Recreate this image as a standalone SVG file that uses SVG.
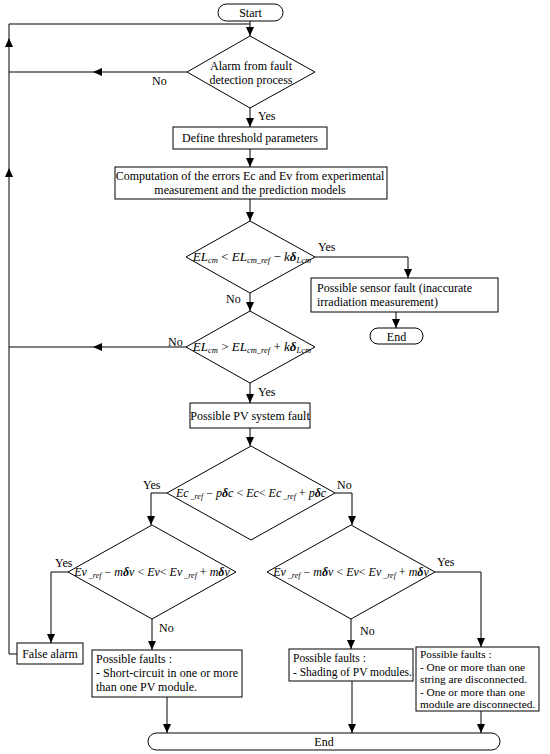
<svg xmlns="http://www.w3.org/2000/svg" width="550" height="754" viewBox="0 0 550 754" font-family="'Liberation Serif','Times New Roman',serif">
<defs>
<marker id="ah" markerUnits="userSpaceOnUse" markerWidth="10" markerHeight="8" refX="9" refY="4" orient="auto">
<path d="M0,0 L9,4 L0,8 z" fill="#000"/>
</marker>
<style>
.s{fill:#fff;stroke:#000;stroke-width:1}
.c{fill:none;stroke:#000;stroke-width:1}
.a{marker-end:url(#ah)}
text{font-family:"Liberation Serif","Times New Roman",serif;font-size:12px;fill:#000}
.m{text-anchor:middle}
.i{font-style:italic}
.sb{font-size:8px;font-style:italic}
.f{font-size:11.3px}
.g{font-size:13px}
.g .sb{font-size:8.5px}
.h{font-size:11.5px}
</style>
</defs>
<rect width="550" height="754" fill="#fff"/>
<g id="connectors">
<path class="c a" d="M250,21 V36"/>
<path class="c" d="M9,24 H250"/>
<path class="c a" d="M187,72 H93"/>
<path class="c" d="M93,72 H9"/>
<path class="c a" d="M250,108 V127"/>
<path class="c a" d="M250,149 V167"/>
<path class="c a" d="M250,199 V221"/>
<path class="c a" d="M315,257 H408 V278"/>
<path class="c a" d="M396,312 V328"/>
<path class="c a" d="M250,293 V311"/>
<path class="c a" d="M186,347 H93"/>
<path class="c" d="M93,347 H9"/>
<path class="c a" d="M250,383 V403"/>
<path class="c a" d="M250,428 V446"/>
<path class="c a" d="M167,493 H151 V525"/>
<path class="c a" d="M335,493 H352 V525"/>
<path class="c a" d="M68,572 H51 V643"/>
<path class="c a" d="M152,619 V650"/>
<path class="c a" d="M435,572 H481 V647"/>
<path class="c a" d="M351,619 V649"/>
<path class="c a" d="M17,654 H9 V168"/>
<path class="c a" d="M9,168 V38"/>
<path class="c" d="M9,38 V24"/>
<path class="c a" d="M167,697 V733"/>
<path class="c a" d="M352,681 V733"/>
<path class="c a" d="M481,711 V733"/>
</g>
<g id="start">
<rect class="s" x="218" y="4" width="65" height="17" rx="8.5"/>
<text class="m" x="250.5" y="17">Start</text>
</g>
<g id="alarm">
<polygon class="s" points="250,36 315,72 250,108 187,72"/>
<text class="m" x="251" y="70">Alarm from fault</text>
<text class="m" x="251" y="84">detection process</text>
</g>
<text x="152" y="85">No</text>
<text x="258" y="120">Yes</text>
<g id="define">
<rect class="s" x="173" y="127" width="154" height="22"/>
<text class="m" x="250" y="142">Define threshold parameters</text>
</g>
<g id="compute">
<rect class="s" x="115" y="167" width="272" height="32"/>
<text class="m" x="250" y="180">Computation of the errors Ec and Ev from experimental</text>
<text class="m" x="250" y="194">measurement and the prediction models</text>
</g>
<g id="cond1">
<polygon class="s" points="250,221 315,257 250,293 186,257"/>
<text class="m g" x="252" y="261"><tspan class="i">EL</tspan><tspan class="sb" dy="2">cm</tspan><tspan dy="-2"> &lt; </tspan><tspan class="i">EL</tspan><tspan class="sb" dy="2">cm_ref</tspan><tspan dy="-2"> − </tspan><tspan class="i">k</tspan><tspan class="i" font-weight="bold">δ</tspan><tspan class="sb" dy="2">Lcm</tspan></text>
</g>
<text x="318" y="251">Yes</text>
<text x="226" y="303">No</text>
<g id="sensor">
<rect class="s" x="311" y="278" width="187" height="34"/>
<text x="317" y="292">Possible sensor fault (inaccurate</text>
<text x="317" y="306">irradiation measurement)</text>
</g>
<g id="end1">
<rect class="s" x="370" y="328" width="53" height="16" rx="8"/>
<text class="m" x="396.5" y="340.5">End</text>
</g>
<g id="cond2">
<polygon class="s" points="250,311 315,347 250,383 186,347"/>
<text class="m g" x="252" y="351"><tspan class="i">EL</tspan><tspan class="sb" dy="2">cm</tspan><tspan dy="-2"> &gt; </tspan><tspan class="i">EL</tspan><tspan class="sb" dy="2">cm_ref</tspan><tspan dy="-2"> + </tspan><tspan class="i">k</tspan><tspan class="i" font-weight="bold">δ</tspan><tspan class="sb" dy="2">Lcm</tspan></text>
</g>
<text x="168" y="346">No</text>
<text x="258" y="396">Yes</text>
<g id="pvfault">
<rect class="s" x="190" y="403" width="120" height="25"/>
<text class="m" x="250" y="420">Possible PV system fault</text>
</g>
<g id="cond3">
<polygon class="s" points="251,446 335,493 251,540 167,493"/>
<text class="m" x="251" y="497"><tspan class="i">Ec</tspan><tspan class="sb" dy="2"> _ref</tspan><tspan dy="-2"> − </tspan><tspan class="i">p</tspan><tspan class="i" font-weight="bold">δ</tspan><tspan class="i">c</tspan><tspan> &lt; </tspan><tspan class="i">Ec</tspan><tspan>&lt; </tspan><tspan class="i">Ec</tspan><tspan class="sb" dy="2"> _ref</tspan><tspan dy="-2"> + </tspan><tspan class="i">p</tspan><tspan class="i" font-weight="bold">δ</tspan><tspan class="i">c</tspan></text>
</g>
<text x="143" y="489">Yes</text>
<text x="337" y="489">No</text>
<g id="cond4">
<polygon class="s" points="152,525 236,572 152,619 68,572"/>
<text class="m" x="152" y="576"><tspan class="i">Ev</tspan><tspan class="sb" dy="2"> _ref</tspan><tspan dy="-2"> − </tspan><tspan class="i">m</tspan><tspan class="i" font-weight="bold">δ</tspan><tspan class="i">v</tspan><tspan> &lt; </tspan><tspan class="i">Ev</tspan><tspan>&lt; </tspan><tspan class="i">Ev</tspan><tspan class="sb" dy="2"> _ref</tspan><tspan dy="-2"> + </tspan><tspan class="i">m</tspan><tspan class="i" font-weight="bold">δ</tspan><tspan class="i">v</tspan></text>
</g>
<text x="55" y="567">Yes</text>
<text x="159" y="632">No</text>
<g id="cond5">
<polygon class="s" points="351,525 435,572 351,619 267,572"/>
<text class="m" x="351" y="576"><tspan class="i">Ev</tspan><tspan class="sb" dy="2"> _ref</tspan><tspan dy="-2"> − </tspan><tspan class="i">m</tspan><tspan class="i" font-weight="bold">δ</tspan><tspan class="i">v</tspan><tspan> &lt; </tspan><tspan class="i">Ev</tspan><tspan>&lt; </tspan><tspan class="i">Ev</tspan><tspan class="sb" dy="2"> _ref</tspan><tspan dy="-2"> + </tspan><tspan class="i">m</tspan><tspan class="i" font-weight="bold">δ</tspan><tspan class="i">v</tspan></text>
</g>
<text x="437" y="566">Yes</text>
<text x="360" y="635">No</text>
<g id="falsealarm">
<rect class="s" x="17" y="643" width="66" height="21"/>
<text class="m" x="50" y="658">False alarm</text>
</g>
<g id="faults1">
<rect class="s" x="92" y="650" width="150" height="47"/>
<text x="96" y="663">Possible faults :</text>
<text x="96" y="677" textLength="142" lengthAdjust="spacing">- Short-circuit in one or more</text>
<text x="96" y="691">than one PV module.</text>
</g>
<g id="faults2">
<rect class="s" x="289" y="649" width="124" height="32"/>
<text class="h" x="293" y="662">Possible faults :</text>
<text class="h" x="293" y="676">- Shading of PV modules.</text>
</g>
<g id="faults3">
<rect class="s" x="416" y="647" width="123" height="64"/>
<text class="f" x="420" y="658">Possible faults :</text>
<text class="f" x="420" y="670.5">- One or more than one</text>
<text class="f" x="420" y="683">string are disconnected.</text>
<text class="f" x="420" y="695.5">- One or more than one</text>
<text class="f" x="420" y="708">module are disconnected.</text>
</g>
<g id="end2">
<rect class="s" x="148" y="733" width="352" height="17" rx="8.5"/>
<text class="m" x="324" y="746">End</text>
</g>
</svg>
